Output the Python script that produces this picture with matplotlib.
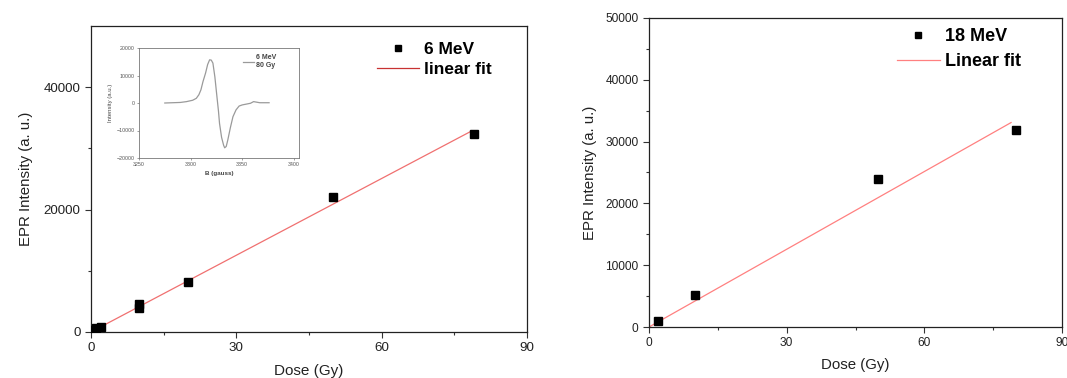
import matplotlib.pyplot as plt
from matplotlib.ticker import MultipleLocator, FixedLocator
import numpy as np

plt.rcParams['font.family'] = ['Liberation Sans', 'DejaVu Sans']

# 6 MeV data (left panel)
dose_6 = [0.5, 1, 2, 10, 10, 20, 50, 79]
epr_6 = [300, 600, 850, 4000, 4600, 8200, 22050, 32300]
fit_x_6 = [0, 78.6]
fit_y_6 = [0, 32860]

# 18 MeV data (right panel)
dose_18 = [2, 10, 50, 80]
epr_18 = [1040, 5100, 23950, 31900]
fit_x_18 = [0, 78.9]
fit_y_18 = [0, 33080]

# inset EPR spectrum (6 MeV, 80 Gy)
b_gauss = [3275, 3290, 3296, 3302, 3305.5, 3308, 3310, 3312, 3314.5, 3316.5, 3318.4,
           3320, 3321.6, 3323.5, 3325.5, 3327, 3328, 3330, 3332, 3333, 3334.5, 3336,
           3338.5, 3341, 3344, 3347, 3350, 3354, 3358, 3361, 3364, 3367, 3372, 3376]
intensity = [0, 200, 500, 1000, 1700, 3000, 4800, 7800, 10900, 14000, 15700,
             15600, 14500, 9500, 2300, -3000, -7400, -12500, -15400, -16300, -15800, -13500,
             -9000, -5000, -2500, -1100, -700, -400, -100, 500, 300, 100, 100, 100]

W, H = 1067, 378
fig = plt.figure(figsize=(W / 100, H / 100), dpi=100)


def px_axes(l, t, r, b):
    return fig.add_axes([l / W, (H - b) / H, (r - l) / W, (b - t) / H])


def style_main(ax, fs):
    ax.set_xlim(0, 90)
    ax.set_ylim(0, 50000)
    ax.xaxis.set_major_locator(MultipleLocator(30))
    ax.xaxis.set_minor_locator(MultipleLocator(15))
    ax.tick_params(which='both', direction='out', top=False, right=False,
                   labelsize=fs, labelcolor='#222222', color='#333333')
    ax.tick_params(which='major', length=4, width=0.8)
    ax.tick_params(which='minor', length=2.5, width=0.8)
    for s in ax.spines.values():
        s.set_linewidth(0.9)
        s.set_color('#222222')


# ---- left panel ----
ax1 = px_axes(91, 26, 527, 332)
style_main(ax1, 9.6)
ax1.yaxis.set_major_locator(FixedLocator([0, 20000, 40000]))
ax1.yaxis.set_minor_locator(FixedLocator([10000, 30000]))
ax1.plot(fit_x_6, fit_y_6, color='#f07070', lw=0.9, label='linear fit')
ax1.plot(dose_6, epr_6, 's', color='black', ms=6.2, label='6 MeV', zorder=3)
ax1.set_xlabel('Dose (Gy)', fontsize=11, color='#222222', labelpad=7)
ax1.set_ylabel('EPR Intensity (a. u.)', fontsize=10.8, color='#222222', labelpad=8)
h, l = ax1.get_legend_handles_labels()
leg1 = ax1.legend([h[1], h[0]], [l[1], l[0]], loc='upper left', bbox_to_anchor=(0.62, 1.0),
                  frameon=False, prop={'weight': 'bold', 'size': 12.5},
                  handlelength=2.4, handletextpad=0.3, labelspacing=0.3, markerscale=0.7)
leg1.get_lines()[1].set_color('#c83232')

# inset spectrum
axi = px_axes(139, 48, 299, 158)
axi.plot(b_gauss, intensity, color='#9a9a9a', lw=0.9, label='6 MeV\n80 Gy')
axi.set_xlim(3250, 3405)
axi.set_ylim(-20000, 20000)
axi.set_xticks([3250, 3300, 3350, 3400])
axi.set_yticks([-20000, -10000, 0, 10000, 20000])
axi.tick_params(labelsize=3.8, length=1.5, width=0.5, labelcolor='#555555', color='#777777', pad=1.5)
for s in axi.spines.values():
    s.set_linewidth(0.6)
    s.set_color('#777777')
axi.set_xlabel('B (gauss)', fontsize=4.5, weight='bold', color='#444444', labelpad=3)
axi.set_ylabel('Intensity (a.u.)', fontsize=4.3, color='#444444', labelpad=3)
axi.legend(loc='upper left', bbox_to_anchor=(0.63, 0.97), frameon=False,
           prop={'weight': 'bold', 'size': 5}, handlelength=1.6, handletextpad=0.3,
           borderaxespad=0.0, labelcolor='#444444')

# ---- right panel ----
ax2 = px_axes(649, 18, 1062, 327)
style_main(ax2, 8.6)
ax2.yaxis.set_major_locator(MultipleLocator(10000))
ax2.yaxis.set_minor_locator(MultipleLocator(5000))
ax2.plot(fit_x_18, fit_y_18, color='#ff8080', lw=0.9, label='Linear fit')
ax2.plot(dose_18, epr_18, 's', color='black', ms=6, label='18 MeV', zorder=3)
ax2.set_xlabel('Dose (Gy)', fontsize=10.8, color='#222222', labelpad=6)
ax2.set_ylabel('EPR Intensity (a. u.)', fontsize=10.8, color='#222222', labelpad=6)
h, l = ax2.get_legend_handles_labels()
ax2.legend([h[1], h[0]], [l[1], l[0]], loc='upper left', bbox_to_anchor=(0.56, 1.02),
           frameon=False, prop={'weight': 'bold', 'size': 13},
           handlelength=2.4, handletextpad=0.3, labelspacing=0.45, markerscale=0.75)

fig.savefig('out.png', dpi=100)
